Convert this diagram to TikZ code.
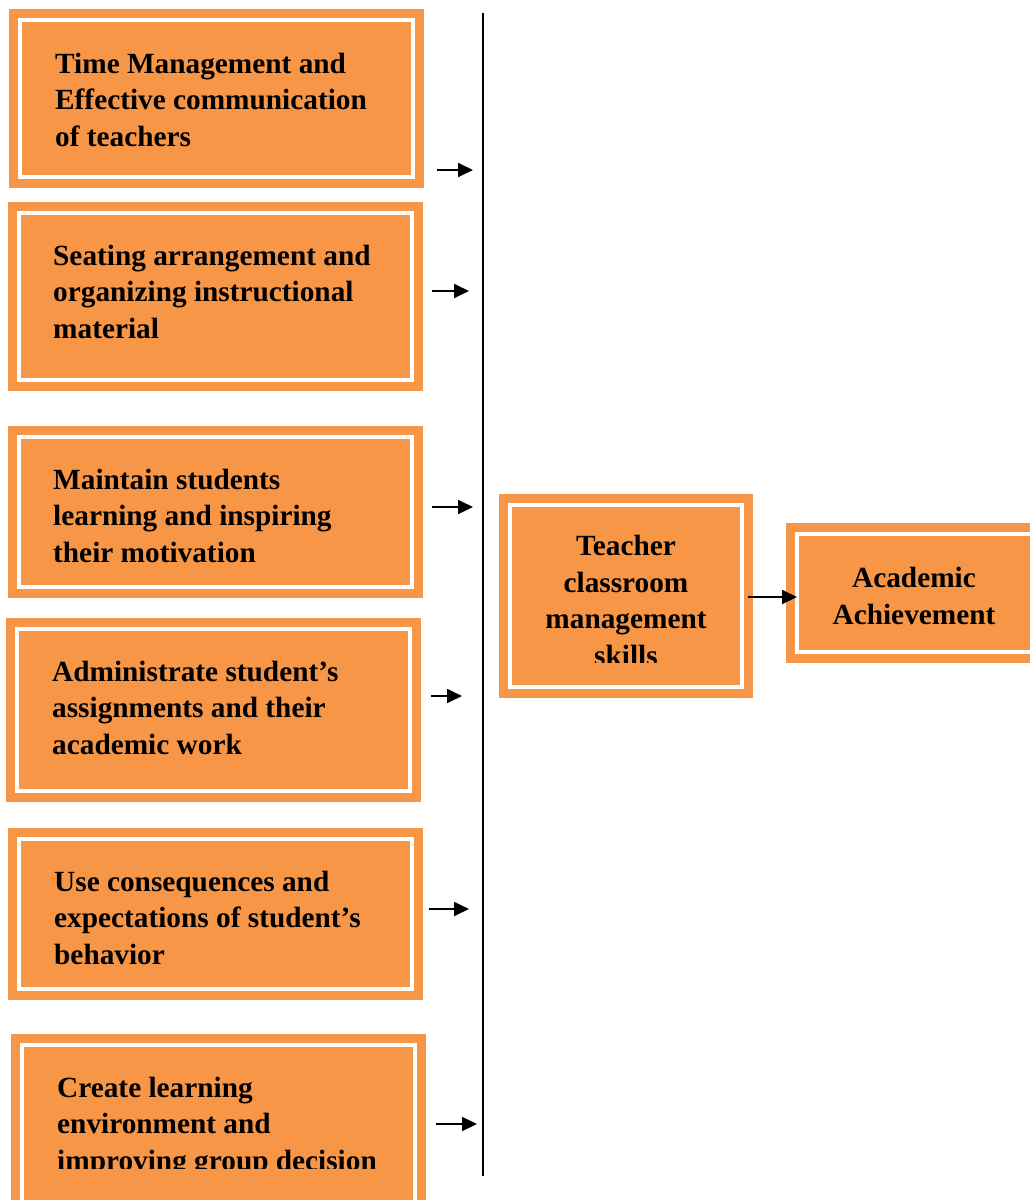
\documentclass[tikz,border=0pt]{standalone}
\usepackage{fontspec}
\setmainfont{Liberation Serif}
\usetikzlibrary{fit,arrows.meta}
\definecolor{boxorange}{HTML}{F79646}
\tikzset{
  obox/.style={fill=boxorange, draw=none, inner sep=0pt, outer sep=0pt},
  wline/.style={draw=white, line width=4.5pt},
  ltext/.style={font=\bfseries\fontsize{29.3}{36.5}\selectfont, align=left, inner sep=0pt, anchor=base west},
  ctext/.style={font=\bfseries\fontsize{29.3}{36.5}\selectfont, align=center, inner sep=0pt, anchor=base},
  conn/.style={line width=1.8pt, -{Triangle[length=15pt,width=14pt]}},
}
\newcommand{\innerline}[1]{\draw[wline] ([shift={(11pt,-11pt)}]#1.north west) rectangle ([shift={(-11pt,11pt)}]#1.south east);}
\begin{document}
\begin{tikzpicture}[x=1pt,y=-1pt]
\clip (0,0) rectangle (1030,1200);
% boxes
\node[obox, fit={(9,9) (424,188)}] (b1) {};
\node[obox, fit={(8,202) (423,391)}] (b2) {};
\node[obox, fit={(8,426) (423,598)}] (b3) {};
\node[obox, fit={(6,618) (421,802)}] (b4) {};
\node[obox, fit={(8,828) (423,1000)}] (b5) {};
\node[obox, fit={(11,1034) (426,1215)}] (b6) {};
\node[obox, fit={(499,494) (753,698)}] (c) {};
\node[obox, fit={(786,523) (1045,663)}] (a) {};
\innerline{b1}\innerline{b2}\innerline{b3}\innerline{b4}\innerline{b5}\innerline{b6}\innerline{c}\innerline{a}
% texts (anchor = baseline of the last line)
\node[ltext] (t1) at (55,146) {Time Management and\\Effective communication\\of teachers};
\node[ltext] (t2) at (53,338) {Seating arrangement and\\organizing instructional\\material};
\node[ltext] (t3) at (53,562) {Maintain students\\learning and inspiring\\their motivation};
\node[ltext] (t4) at (52,754) {Administrate student’s\\assignments and their\\academic work};
\node[ltext] (t5) at (54,964) {Use consequences and\\expectations of student’s\\behavior};
\begin{scope}
\clip (20,1040) rectangle (420,1168);
\node[ltext] (t6) at (57,1170) {Create learning\\environment and\\improving group decision};
\end{scope}
\begin{scope}
\clip (510,500) rectangle (745,662);
\node[ctext] (tc) at (626,665) {Teacher\\classroom\\management\\skills};
\end{scope}
\node[ctext] (ta) at (914,624) {Academic\\Achievement};
% vertical line
\coordinate (vtop) at (483,13);
\coordinate (vbot) at (483,1176);
\draw[line width=1.8pt] (vtop) -- (vbot);
% arrows
\coordinate (s1) at (437,170); \coordinate (e1) at (473,170);
\coordinate (s2) at (432,291); \coordinate (e2) at (469,291);
\coordinate (s3) at (432,507); \coordinate (e3) at (473,507);
\coordinate (s4) at (431,696); \coordinate (e4) at (462,696);
\coordinate (s5) at (429,909); \coordinate (e5) at (469,909);
\coordinate (s6) at (436,1124); \coordinate (e6) at (477,1124);
\draw[conn] (s1) -- (e1);
\draw[conn] (s2) -- (e2);
\draw[conn] (s3) -- (e3);
\draw[conn] (s4) -- (e4);
\draw[conn] (s5) -- (e5);
\draw[conn] (s6) -- (e6);
\coordinate (cs) at (748,597);
\coordinate (ce) at (797,597);
\draw[conn] (cs) -- (ce);
\end{tikzpicture}
\end{document}
